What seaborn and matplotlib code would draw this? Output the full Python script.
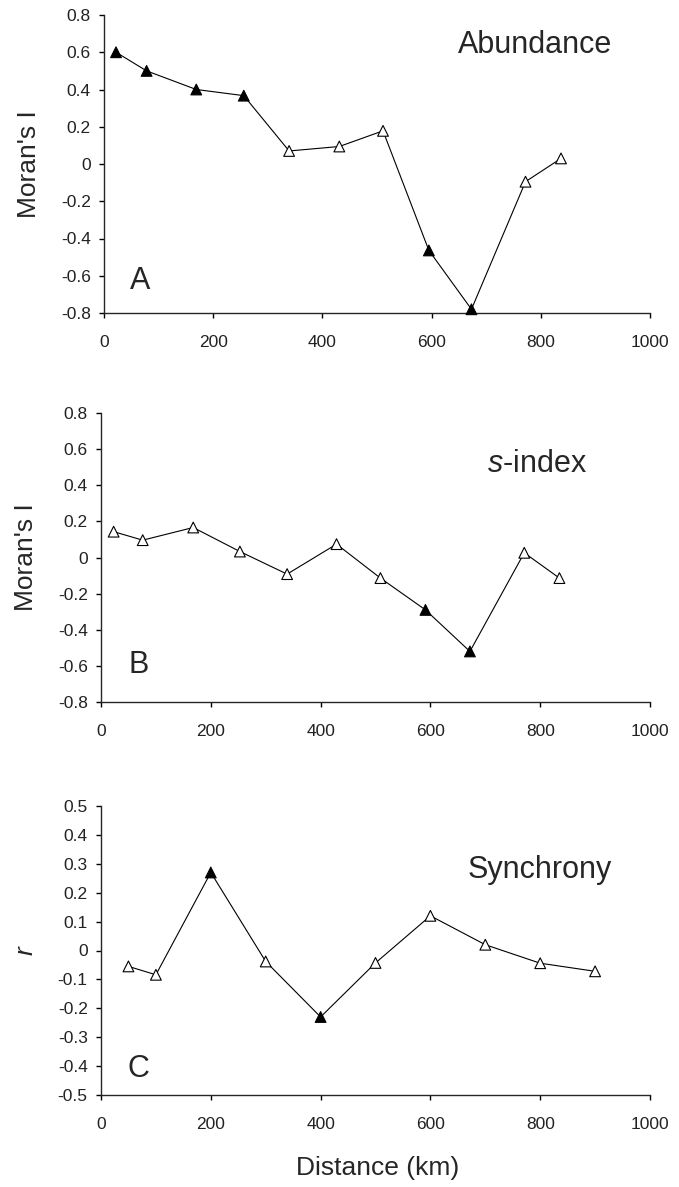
import numpy as np
import pandas as pd
import matplotlib
matplotlib.use("Agg")
import matplotlib.pyplot as plt
import seaborn as sns
from matplotlib import font_manager
from matplotlib.ticker import FuncFormatter, FixedLocator

# ---- data ----
dist_A = [22, 78, 169, 256, 339, 431, 511, 595, 673, 772, 837]
moran_A = [0.60, 0.50, 0.40, 0.367, 0.07, 0.094, 0.178, -0.464, -0.78, -0.095, 0.03]
sig_A = [1, 1, 1, 1, 0, 0, 0, 1, 1, 0, 0]

dist_B = [23, 76, 168, 253, 339, 429, 509, 591, 672, 771, 835]
moran_B = [0.143, 0.096, 0.166, 0.033, -0.092, 0.074, -0.114, -0.29, -0.52, 0.026, -0.114]
sig_B = [0, 0, 0, 0, 0, 0, 0, 1, 1, 0, 0]

dist_C = [50, 100, 200, 300, 400, 500, 600, 700, 800, 900]
r_C = [-0.055, -0.084, 0.27, -0.038, -0.23, -0.043, 0.12, 0.02, -0.044, -0.072]
sig_C = [0, 0, 1, 0, 1, 0, 0, 0, 0, 0]

xticks = [0, 200, 400, 600, 800, 1000]
yticks_AB = [-0.8, -0.6, -0.4, -0.2, 0, 0.2, 0.4, 0.6, 0.8]
yticks_C = [-0.5, -0.4, -0.3, -0.2, -0.1, 0, 0.1, 0.2, 0.3, 0.4, 0.5]

titles = ["Abundance", "$\\mathit{s}$-index", "Synchrony"]
letters = ["A", "B", "C"]
ylabels = ["Moran's I", "Moran's I", "$\\mathit{r}$"]

# ---- style ----
sns.set_style("ticks")
plt.rcParams["font.family"] = ["Liberation Sans", "DejaVu Sans"]
plt.rcParams["mathtext.fontset"] = "custom"
plt.rcParams["mathtext.it"] = "Liberation Sans:italic"
plt.rcParams["mathtext.rm"] = "Liberation Sans"
plt.rcParams["axes.linewidth"] = 1.0
plt.rcParams["xtick.major.width"] = 1.0
plt.rcParams["ytick.major.width"] = 1.0
plt.rcParams["xtick.major.size"] = 3.6
plt.rcParams["ytick.major.size"] = 3.6
plt.rcParams["xtick.direction"] = "out"
plt.rcParams["ytick.direction"] = "out"

installed = {f.name for f in font_manager.fontManager.ttflist}
tick_family = "Liberation Sans Narrow" if "Liberation Sans Narrow" in installed else "Liberation Sans"
tick_size = 13.5 if tick_family == "Liberation Sans Narrow" else 12.5

W, H = 679, 1187
fig = plt.figure(figsize=(W / 100, H / 100), dpi=100)

# axes boxes in pixel coords: left, right, top, bottom
boxes = [(104, 650, 15, 313), (101, 650, 413, 702), (101, 650, 806, 1095)]
datasets = [(dist_A, moran_A, sig_A, yticks_AB, (-0.8, 0.8)),
            (dist_B, moran_B, sig_B, yticks_AB, (-0.8, 0.8)),
            (dist_C, r_C, sig_C, yticks_C, (-0.5, 0.5))]
title_pos = [(790, 0.64), (794, 0.515), (800, 0.28)]
letter_pos = [(48, -0.63), (50, -0.597), (48, -0.41)]

fmt = FuncFormatter(lambda v, p: "0" if abs(v) < 1e-9 else f"{v:g}")

for i, ((l, r, t, b), (xs, ys, sg, yt, ylim)) in enumerate(zip(boxes, datasets)):
    ax = fig.add_axes([l / W, 1 - b / H, (r - l) / W, (b - t) / H])
    df = pd.DataFrame({"x": xs, "y": ys,
                       "sig": ["sig" if s else "ns" for s in sg]})
    sns.lineplot(data=df, x="x", y="y", color="black", linewidth=0.8,
                 ax=ax, sort=False, zorder=2)
    sns.scatterplot(data=df, x="x", y="y", hue="sig",
                    palette={"sig": "black", "ns": "white"},
                    marker="^", s=60, edgecolor="black", linewidth=0.8,
                    ax=ax, legend=False, zorder=3, clip_on=False)
    ax.set_xlim(0, 1000)
    ax.set_ylim(*ylim)
    ax.xaxis.set_major_locator(FixedLocator(xticks))
    ax.yaxis.set_major_locator(FixedLocator(yt))
    ax.yaxis.set_major_formatter(fmt)
    ax.tick_params(axis="x", pad=12, colors="black", labelcolor="#222222")
    ax.tick_params(axis="y", pad=6, colors="black", labelcolor="#222222")
    for lab in ax.get_xticklabels() + ax.get_yticklabels():
        lab.set_fontfamily(tick_family)
        lab.set_fontsize(tick_size)
    sns.despine(ax=ax)
    ax.set_xlabel("")
    ax.set_ylabel(ylabels[i], fontsize=19)
    ax.yaxis.set_label_coords(-0.115, 0.5)
    tx, ty = title_pos[i]
    ax.text(tx, ty, titles[i], fontsize=22, ha="center", va="center")
    lx, ly = letter_pos[i]
    ax.text(lx, ly, letters[i], fontsize=22, ha="left", va="center")

fig.text((101 + 0.503 * 549) / W, 1 - 1168 / H, "Distance (km)",
         fontsize=19, ha="center", va="center")

fig.savefig("out.png", dpi=100)
